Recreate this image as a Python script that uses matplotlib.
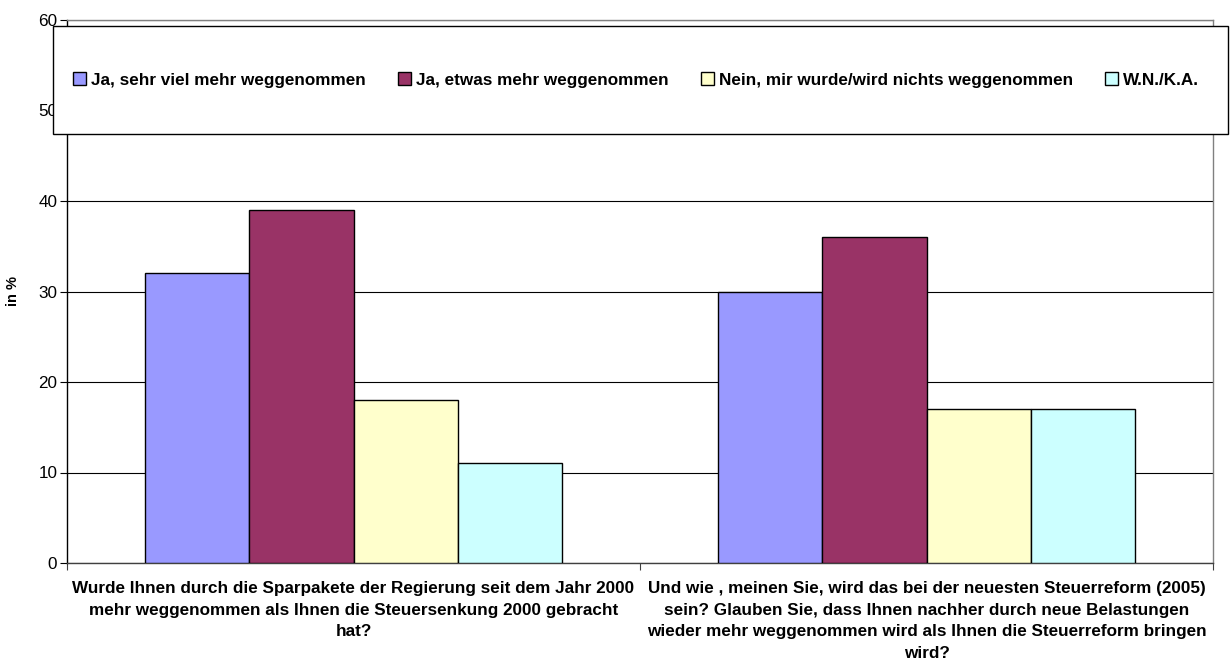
import numpy as np
import matplotlib
matplotlib.use("Agg")
import matplotlib.pyplot as plt
from matplotlib.patches import Rectangle

plt.rcParams['font.family'] = ['Liberation Sans', 'DejaVu Sans']

# Data
questions = [
    "Wurde Ihnen durch die Sparpakete der Regierung seit dem Jahr 2000\n"
    "mehr weggenommen als Ihnen die Steuersenkung 2000 gebracht\nhat?",
    "Und wie , meinen Sie, wird das bei der neuesten Steuerreform (2005)\n"
    "sein? Glauben Sie, dass Ihnen nachher durch neue Belastungen\n"
    "wieder mehr weggenommen wird als Ihnen die Steuerreform bringen\nwird?",
]
series_names = [
    "Ja, sehr viel mehr weggenommen",
    "Ja, etwas mehr weggenommen",
    "Nein, mir wurde/wird nichts weggenommen",
    "W.N./K.A.",
]
sehr_viel = [32, 30]
etwas = [39, 36]
nichts = [18, 17]
wnka = [11, 17]
colors = ["#9999FF", "#993366", "#FFFFCC", "#CCFFFF"]
yticks = [0, 10, 20, 30, 40, 50, 60]

fig = plt.figure(figsize=(12.3, 6.62), dpi=100)
ax = fig.add_axes([67 / 1230, 1 - 563 / 662, 1146 / 1230, 543 / 662])

x = np.arange(len(questions))
width = 0.182
values = [sehr_viel, etwas, nichts, wnka]
for i, (vals, name, col) in enumerate(zip(values, series_names, colors)):
    ax.bar(x + (i - 1.5) * width, vals, width, color=col, edgecolor='black',
           linewidth=1.0, label=name, zorder=3)

ax.set_xlim(-0.5, 1.5)
ax.set_ylim(0, 60)
ax.set_yticks(yticks)
ax.tick_params(axis='y', labelsize=12.3, length=5, width=0.8, pad=2)
ax.yaxis.grid(True, color='black', linewidth=0.8, zorder=0)

# category labels between boundary ticks
ax.set_xticks(x)
ax.set_xticklabels(questions, fontsize=12.3, fontweight='bold', linespacing=1.55)
ax.tick_params(axis='x', length=0, pad=13)
ax.set_xticks([-0.5, 0.5, 1.5], minor=True)
ax.tick_params(axis='x', which='minor', length=5, width=0.8, color='#404040')

ax.set_ylabel("in %", fontsize=10.5, fontweight='bold')
ax.yaxis.set_label_coords(-47 / 1146, 0.5)

ax.spines['left'].set_color('black')
ax.spines['bottom'].set_color('#404040')
ax.spines['top'].set_color('#808080')
ax.spines['right'].set_color('#808080')
for s in ax.spines.values():
    s.set_linewidth(1.0)

# legend box
box = (53 / 1230, 1 - 134 / 662, 1175 / 1230, 108 / 662)
fig.patches.append(Rectangle(box[:2], box[2], box[3], transform=fig.transFigure,
                             facecolor='white', edgecolor='black', linewidth=1.0,
                             zorder=4))
handles, labels = ax.get_legend_handles_labels()
leg = fig.legend(handles, labels, loc='center', ncol=4, mode='expand',
                 bbox_to_anchor=(66 / 1230, box[1], 1140 / 1230, box[3]),
                 prop={'weight': 'bold', 'size': 12.3}, frameon=False,
                 handlelength=0.75, handleheight=0.75, handletextpad=0.3,
                 borderaxespad=0)
leg.set_zorder(5)

fig.savefig("out.png", dpi=100)
